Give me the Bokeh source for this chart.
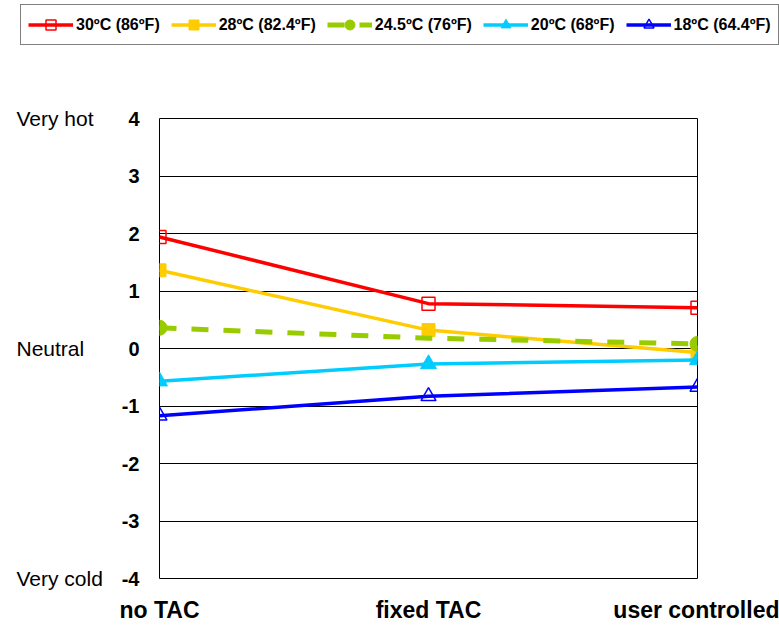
from bokeh.plotting import figure
from bokeh.layouts import column, row
from bokeh.models import (Range1d, FixedTicker, Legend, LegendItem,
                          ColumnDataSource, CDSView, IndexFilter, LinearAxis)
from bokeh.embed import file_html
from bokeh.resources import INLINE

# ---- data ----
categories = ["no TAC", "fixed TAC", "user controlled"]
series_names = ["30ºC (86ºF)", "28ºC (82.4ºF)", "24.5ºC (76ºF)", "20ºC (68ºF)", "18ºC (64.4ºF)"]
t30 = [1.94, 0.78, 0.71]
t28 = [1.36, 0.32, -0.07]
t245 = [0.36, 0.18, 0.08]
t20 = [-0.57, -0.27, -0.20]
t18 = [-1.17, -0.83, -0.67]
y_ticks = [-4, -3, -2, -1, 0, 1, 2, 3, 4]
y_tick_labels = ["-4", "-3", "-2", "-1", "0", "1", "2", "3", "4"]
scale_labels = ["Very hot", "Neutral", "Very cold"]
scale_values = [4, 0, -4]

# ---- layout constants (pixels) ----
W, H = 779, 626
LEG_H = 50          # height of the legend strip
LEFT_W = 114        # width of the strip holding the scale words
FRAME_L, FRAME_R, FRAME_T, FRAME_B = 159, 697, 118, 578
Y0, Y1 = -4, 4

x_pos = list(range(len(categories)))
series_vals = [t30, t28, t245, t20, t18]
styles = [
    dict(color="#FF0000", marker="square", size=13, fill=None, lw=3.5, dash="solid", mlw=1.5),
    dict(color="#FFCC00", marker="square", size=13, fill="#FFCC00", lw=3.5, dash="solid", mlw=1),
    dict(color="#99CC00", marker="circle", size=15, fill="#99CC00", lw=5, dash="17 15", mlw=1),
    dict(color="#00CCFF", marker="triangle", size=16, fill="#00CCFF", lw=3.5, dash="solid", mlw=1),
    dict(color="#0000FF", marker="triangle", size=15, fill=None, lw=3.5, dash="solid", mlw=1.5),
]


def draw_series(fig):
    out = []
    for name, vals, st in zip(series_names, series_vals, styles):
        src = ColumnDataSource(dict(x=x_pos, y=vals))
        lr = fig.line("x", "y", source=src, line_color=st["color"], line_width=st["lw"],
                      line_dash=st["dash"])
        kw = {}
        if st["color"] == "#99CC00":
            kw["view"] = CDSView(filter=IndexFilter([0, 2]))
        sr = fig.scatter("x", "y", source=src, marker=st["marker"], size=st["size"],
                         line_color=st["color"], fill_color=st["fill"],
                         line_width=st["mlw"], **kw)
        out.append((name, lr, sr))
    return out


# ---- main chart ----
p = figure(width=W - LEFT_W, height=H - LEG_H, output_backend="svg", toolbar_location=None,
           x_range=Range1d(0, len(categories) - 1), y_range=Range1d(Y0, Y1),
           min_border_left=FRAME_L - LEFT_W, min_border_right=W - FRAME_R,
           min_border_top=FRAME_T - LEG_H, min_border_bottom=H - FRAME_B)
p.outline_line_color = "black"
p.outline_line_width = 1

p.xaxis.ticker = FixedTicker(ticks=x_pos)
p.xaxis.major_label_overrides = {i: c for i, c in zip(x_pos, categories)}
p.xaxis.major_label_text_font = "Liberation Sans"
p.xaxis.major_label_text_font_style = "bold"
p.xaxis.major_label_text_font_size = "23px"
p.xaxis.major_label_text_color = "black"
p.xaxis.major_label_standoff = 12
p.xaxis.axis_line_color = None
p.xaxis.major_tick_line_color = None
p.xaxis.minor_tick_line_color = None

p.yaxis.ticker = FixedTicker(ticks=y_ticks)
p.yaxis.major_label_overrides = {t: l for t, l in zip(y_ticks, y_tick_labels)}
p.yaxis.major_label_text_font = "Liberation Sans"
p.yaxis.major_label_text_font_style = "bold"
p.yaxis.major_label_text_font_size = "20px"
p.yaxis.major_label_text_color = "black"
p.yaxis.major_label_standoff = 14
p.yaxis.axis_line_color = None
p.yaxis.major_tick_line_color = None
p.yaxis.minor_tick_line_color = None

p.xgrid.grid_line_color = None
p.ygrid.grid_line_color = "black"
p.ygrid.grid_line_width = 1
p.ygrid.ticker = FixedTicker(ticks=y_ticks)

draw_series(p)

# ---- left strip: scale words as a right-hand axis of a narrow figure ----
left = figure(width=LEFT_W, height=H - LEG_H, output_backend="svg", toolbar_location=None,
              x_range=Range1d(0, 1), y_range=Range1d(Y0, Y1),
              min_border_left=0, min_border_right=LEFT_W - 10,
              min_border_top=FRAME_T - LEG_H, min_border_bottom=H - FRAME_B,
              x_axis_location=None, y_axis_location=None)
left.outline_line_color = None
left.grid.visible = False
scale_axis = LinearAxis(ticker=FixedTicker(ticks=scale_values),
                        major_label_overrides={v: s for v, s in zip(scale_values, scale_labels)},
                        major_label_text_font="Liberation Sans",
                        major_label_text_font_size="21px",
                        major_label_text_color="black",
                        major_label_standoff=6, major_tick_out=0, major_tick_in=0,
                        axis_line_color=None, major_tick_line_color=None,
                        minor_tick_line_color=None)
left.add_layout(scale_axis, "right")

# ---- legend strip ----
leg = figure(width=W, height=LEG_H, output_backend="svg", toolbar_location=None,
             x_range=Range1d(50, 51), y_range=Range1d(50, 51),
             min_border=0, x_axis_location=None, y_axis_location=None)
leg.outline_line_color = None
leg.grid.visible = False
items = [LegendItem(label=name, renderers=[lr, sr]) for name, lr, sr in draw_series(leg)]
legend = Legend(items=items, orientation="horizontal", location=(20, 5),
                label_text_font="Liberation Sans", label_text_font_style="bold",
                label_text_font_size="16px", label_text_color="black",
                glyph_width=45, glyph_height=25, label_standoff=3, spacing=11,
                padding=7, margin=0, border_line_color="black", border_line_width=1.5,
                background_fill_color="white", background_fill_alpha=1)
leg.add_layout(legend)

layout = column(leg, row(left, p))
open("out.html", "w").write(file_html(layout, INLINE))
